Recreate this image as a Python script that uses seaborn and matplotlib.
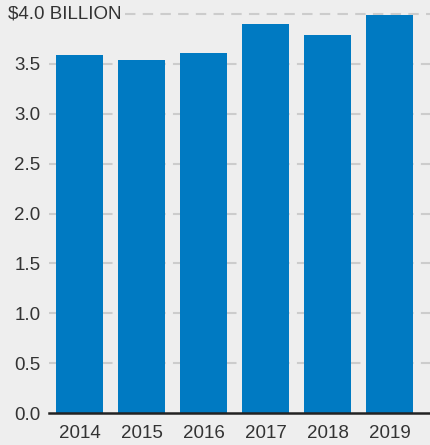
import matplotlib
matplotlib.use('Agg')
import matplotlib.pyplot as plt
import seaborn as sns
import pandas as pd

# Values (billions of dollars)
years = ['2014', '2015', '2016', '2017', '2018', '2019']
values = [3.59, 3.54, 3.61, 3.90, 3.79, 3.99]
yticks = [0.0, 0.5, 1.0, 1.5, 2.0, 2.5, 3.0, 3.5]
top_label = '$4.0 BILLION'

df = pd.DataFrame({'year': years, 'value': values})

sns.set_style('white')
plt.rcParams['font.family'] = ['Liberation Sans', 'DejaVu Sans']

bg = '#eeeeee'
fig = plt.figure(figsize=(4.3, 4.45), dpi=100, facecolor=bg)
ax = fig.add_axes([49 / 430, 1 - 413 / 445, 1 - 49 / 430, (413 - 14) / 445])
ax.set_facecolor(bg)

# grid lines first so bars sit on top
for y in yticks[1:]:
    ax.axhline(y, color='#cccccc', lw=1.5, ls=(0, (5, 3.5)), zorder=0)
ax.axhline(4.0, xmin=(125 - 49) / (430 - 49), xmax=1, color='#cccccc', lw=1.5,
           ls=(0, (5, 3.5)), zorder=0, clip_on=False)

sns.barplot(data=df, x='year', y='value', color='#007ac2', saturation=1,
            width=0.76, ax=ax, zorder=2, edgecolor='none', linewidth=0)

ax.set_xlim(-0.49, 5.65)
ax.set_ylim(0, 4.0)
ax.set_yticks(yticks)
ax.set_yticklabels([f'{t:.1f}' for t in yticks])
ax.set_xlabel('')
ax.set_ylabel('')
ax.tick_params(axis='both', length=0, labelsize=13.5, colors='#333333')
ax.tick_params(axis='y', pad=6)
ax.tick_params(axis='x', pad=9)

for s in ['top', 'right', 'left']:
    ax.spines[s].set_visible(False)
ax.spines['bottom'].set_color('#222222')
ax.spines['bottom'].set_linewidth(1.8)
ax.spines['bottom'].set_zorder(3)

ax.text(-0.49 - 41 / (380 / 6.14), 4.0, top_label, ha='left', va='center',
        fontsize=13.5, color='#333333', transform=ax.transData, clip_on=False)

fig.savefig('out.png', dpi=100, facecolor=bg)
